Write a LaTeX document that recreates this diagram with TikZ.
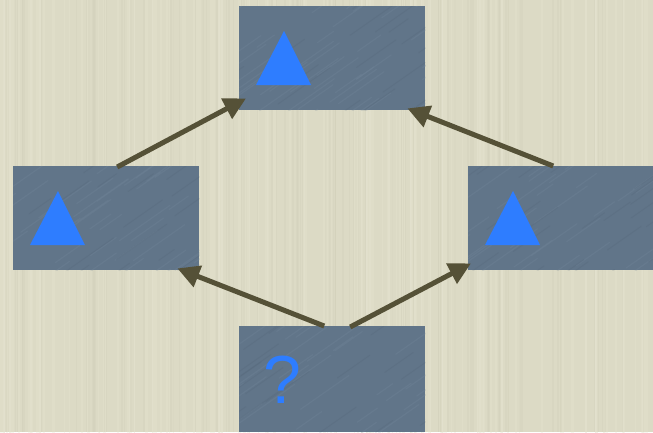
\documentclass[tikz,border=0pt]{standalone}
\usepackage{fontspec}
\newfontfamily\qfont{Liberation Sans}
\usetikzlibrary{arrows.meta,calc}

\definecolor{paper}{HTML}{DCDAC5}
\definecolor{paperlight}{HTML}{E6E4D2}
\definecolor{paperdark}{HTML}{CFCDB6}
\definecolor{slate}{HTML}{617589}
\definecolor{slatelight}{HTML}{6D8195}
\definecolor{slatedark}{HTML}{57697C}
\definecolor{tri}{HTML}{2E7DFF}
\definecolor{olive}{HTML}{555137}

\tikzset{
  panel/.style={fill=slate, draw=none, rectangle, inner sep=0pt,
    minimum width=186pt, minimum height=104pt, anchor=north west},
  link/.style={draw=olive, line width=5pt,
    -{Triangle[length=22pt,width=22pt]}},
  mark tri/.pic={\fill[tri] (45,25) -- (72,79) -- (17,79) -- cycle;},
}

\begin{document}
\begin{tikzpicture}[x=1pt,y=-1pt]
  % paper background with faint vertical grain
  \fill[paper] (0,0) rectangle (653,432);
  \useasboundingbox (0,0) rectangle (653,432);
  \pgfmathsetseed{11}
  \foreach \i in {1,...,140}{
    \pgfmathsetmacro\xx{rnd*653}
    \pgfmathsetmacro\ww{0.8+rnd*2.5}
    \pgfmathsetmacro\yy{rnd*200}
    \draw[paperlight, line width=\ww pt, opacity=0.3] (\xx,\yy-200) -- (\xx,\yy+432);
  }
  \foreach \i in {1,...,90}{
    \pgfmathsetmacro\xx{rnd*653}
    \pgfmathsetmacro\ww{0.6+rnd*1.6}
    \draw[paperdark, line width=\ww pt, opacity=0.25] (\xx,0) -- (\xx,432);
  }

  % the four panels
  \node[panel] (T) at (239,6)   {};
  \node[panel] (L) at (13,166)  {};
  \node[panel] (R) at (468,166) {};
  \node[panel, minimum height=106pt] (B) at (239,326) {};

  % diagonal grain on the panels
  \begin{scope}
    \clip (T.north west) rectangle (T.south east)
          (L.north west) rectangle (L.south east)
          (R.north west) rectangle (R.south east)
          (B.north west) rectangle (B.south east);
    \foreach \i in {1,...,420}{
      \pgfmathsetmacro\xx{rnd*760-60}
      \pgfmathsetmacro\yy{rnd*470}
      \pgfmathsetmacro\ll{15+rnd*40}
      \draw[slatelight, line width=1.2pt, opacity=0.45, line cap=round]
        (\xx,\yy) -- ++(\ll,-0.7*\ll);
    }
    \foreach \i in {1,...,260}{
      \pgfmathsetmacro\xx{rnd*760-60}
      \pgfmathsetmacro\yy{rnd*470}
      \pgfmathsetmacro\ll{15+rnd*40}
      \draw[slatedark, line width=1pt, opacity=0.35, line cap=round]
        (\xx,\yy) -- ++(\ll,-0.7*\ll);
    }
  \end{scope}

  % panel contents
  \pic at (T.north west) {mark tri};
  \pic at (L.north west) {mark tri};
  \pic at (R.north west) {mark tri};
  \node[anchor=base west, inner sep=0pt, text=tri,
        font=\qfont\fontsize{68}{68}\selectfont]
    (q) at ($(B.north west)+(24,77)$) {?};

  % connectors
  \draw[link] ($(L.north)+(11,1)$)  -- ($(T.south west)+(7,-12)$);
  \draw[link] ($(R.north)+(-8,0)$)  -- ($(T.south east)+(-18,-2)$);
  \draw[link] ($(B.north)+(-8,0)$)  -- ($(L.south east)+(-22,-2)$);
  \draw[link] ($(B.north)+(18,1)$)  -- ($(R.south west)+(3,-7)$);
\end{tikzpicture}
\end{document}
